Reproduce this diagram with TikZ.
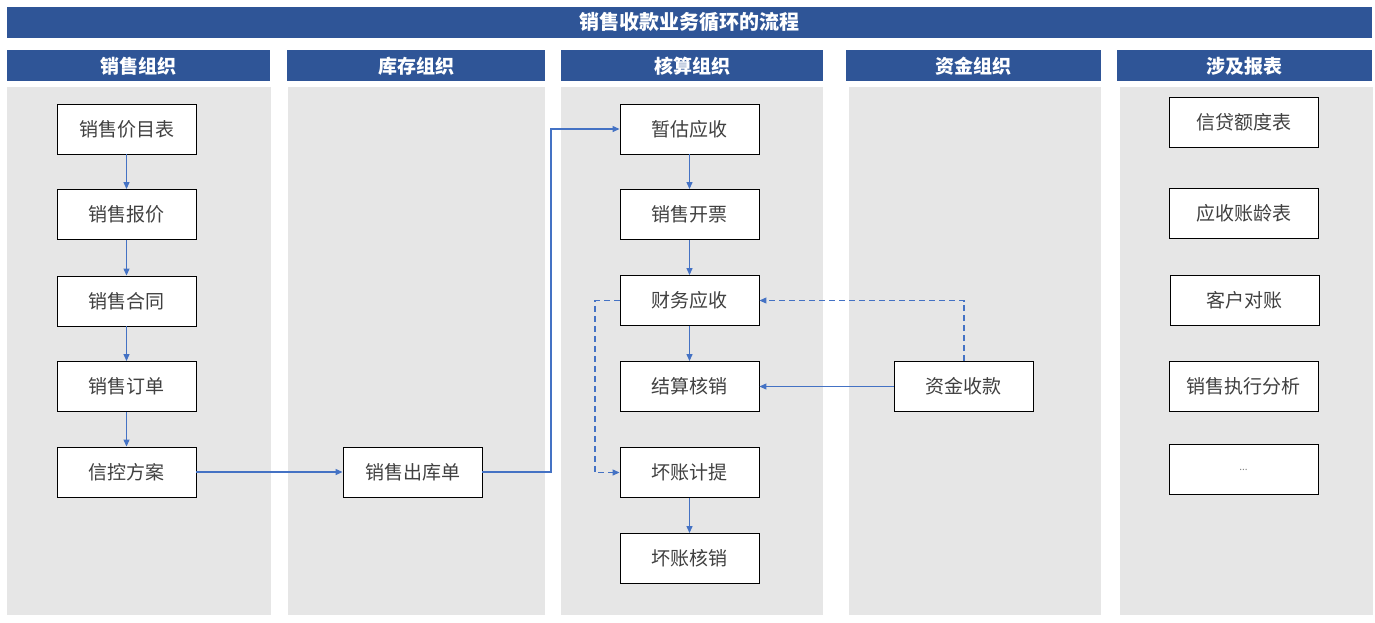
\documentclass[tikz,border=0pt]{standalone}
\usepackage{fontspec}
\setmainfont{Noto Sans CJK SC}
\usetikzlibrary{arrows.meta}
\definecolor{hdr}{HTML}{2F5597}
\definecolor{bg}{HTML}{E6E6E6}
\definecolor{ln}{HTML}{4472C4}
\definecolor{txt}{HTML}{404040}
\begin{document}
\begin{tikzpicture}[x=1pt,y=-1pt,
  hdrbox/.style={fill=hdr,draw=none},
  hdrtext/.style={text=white,font=\fontsize{19}{21}\selectfont\bfseries},
  bgbox/.style={fill=bg,draw=none},
  stepbox/.style={draw=black,line width=0.9pt,fill=white,minimum width=139pt,minimum height=50pt,inner sep=0pt,text=txt,font=\fontsize{19}{21}\selectfont},
  repbox/.style={stepbox,minimum width=149pt},
  conn/.style={draw=ln,line width=1.2pt,-{Triangle[length=7pt,width=6pt]}},
  dconn/.style={conn,dash pattern=on 6pt off 4pt}
]
\useasboundingbox (0,0) rectangle (1375,622);
\fill[white] (0,0) rectangle (1375,622);
% title
\fill[hdrbox] (7,7) rectangle (1372,38);
\node[hdrtext,font=\fontsize{20}{22}\selectfont\bfseries] (title) at (689.5,22.5) {销售收款业务循环的流程};
% column headers
\fill[hdrbox] (7,50) rectangle (270,81);
\fill[hdrbox] (287,50) rectangle (545,81);
\fill[hdrbox] (561,50) rectangle (823,81);
\fill[hdrbox] (846,50) rectangle (1101,81);
\fill[hdrbox] (1117,50) rectangle (1372,81);
\node[hdrtext] (h1) at (138.5,66) {销售组织};
\node[hdrtext] (h2) at (416,66) {库存组织};
\node[hdrtext] (h3) at (692,66) {核算组织};
\node[hdrtext] (h4) at (973.5,66) {资金组织};
\node[hdrtext] (h5) at (1244.5,66) {涉及报表};
% backgrounds
\fill[bgbox] (7,87) rectangle (271,615);
\fill[bgbox] (288,87) rectangle (545,615);
\fill[bgbox] (561,87) rectangle (823,615);
\fill[bgbox] (849,87) rectangle (1101,615);
\fill[bgbox] (1120,87) rectangle (1373,615);
% column 1
\node[stepbox] (a1) at (126.5,129) {销售价目表};
\node[stepbox] (a2) at (126.5,214.5) {销售报价};
\node[stepbox] (a3) at (126.5,301) {销售合同};
\node[stepbox] (a4) at (126.5,386.5) {销售订单};
\node[stepbox] (a5) at (126.5,472) {信控方案};
% column 2
\node[stepbox] (b1) at (412.5,472) {销售出库单};
% column 3
\node[stepbox] (c1) at (689.5,129) {暂估应收};
\node[stepbox] (c2) at (689.5,214.5) {销售开票};
\node[stepbox] (c3) at (689.5,300.5) {财务应收};
\node[stepbox] (c4) at (689.5,386.5) {结算核销};
\node[stepbox] (c5) at (689.5,472.5) {坏账计提};
\node[stepbox] (c6) at (689.5,558.5) {坏账核销};
% column 4
\node[stepbox] (d1) at (963.5,386.5) {资金收款};
% column 5
\node[repbox] (e1) at (1243.5,122) {信贷额度表};
\node[repbox] (e2) at (1243.5,213.5) {应收账龄表};
\node[repbox] (e3) at (1244.5,300.5) {客户对账};
\node[repbox] (e4) at (1243.5,386.5) {销售执行分析};
\node[repbox] (e5) at (1243.5,469.5) {\fontsize{10}{11}\selectfont\textcolor{gray}{...}};
% connectors
\draw[conn] (a1) -- (a2);
\draw[conn] (a2) -- (a3);
\draw[conn] (a3) -- (a4);
\draw[conn] (a4) -- (a5);
\draw[conn] (a5) -- (b1);
\coordinate (k1) at (551,472);
\coordinate (k2) at (551,129);
\draw[conn] (b1.east) -- (k1) -- (k2) -- (c1.west);
\draw[conn] (c1) -- (c2);
\draw[conn] (c2) -- (c3);
\draw[conn] (c3) -- (c4);
\draw[conn] (c5) -- (c6);
\draw[conn] (d1) -- (c4);
\coordinate (k3) at (595,300.5);
\coordinate (k4) at (595,472.5);
\draw[dconn] (c3.west) -- (k3) -- (k4) -- (c5.west);
\coordinate (k5) at (964,300.5);
\draw[dconn] (d1.north -| k5) -- (k5) -- (c3.east);
\end{tikzpicture}
\end{document}
